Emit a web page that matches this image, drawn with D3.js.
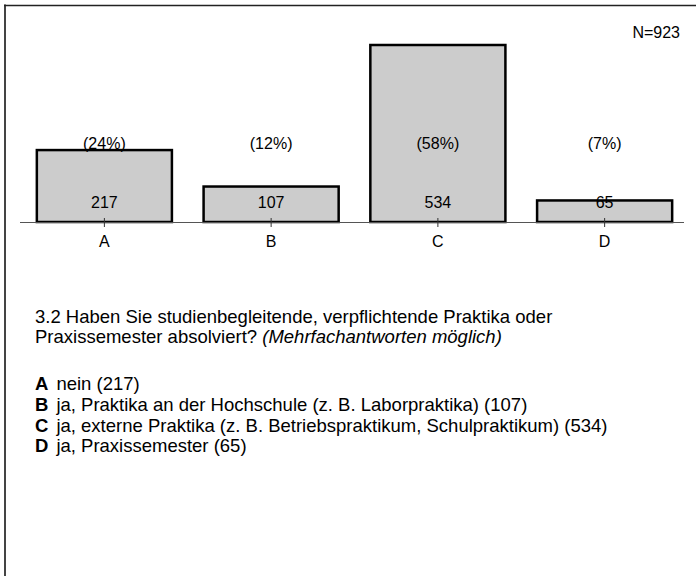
<!DOCTYPE html>
<html>
<head>
<meta charset="utf-8">
<script src="https://cdn.jsdelivr.net/npm/d3@7"></script>
<style>
  body { margin: 0; background: #fff; }
  svg { display: block; font-family: "Liberation Sans", Arial, sans-serif; }
</style>
</head>
<body>
<div id="chart"></div>
<script>
const categories = ['A', 'B', 'C', 'D']
const counts = [217, 107, 534, 65]
const percents = ['(24%)', '(12%)', '(58%)', '(7%)']
const total = 923
const question = [
  '3.2 Haben Sie studienbegleitende, verpflichtende Praktika oder',
  'Praxissemester absolviert?'
]
const questionNote = '(Mehrfachantworten möglich)'
const answers = [
  'nein (217)',
  'ja, Praktika an der Hochschule (z. B. Laborpraktika) (107)',
  'ja, externe Praktika (z. B. Betriebspraktikum, Schulpraktikum) (534)',
  'ja, Praxissemester (65)'
]

const width = 696
const height = 576
const baseY = 222

const svg = d3.select('#chart')
  .append('svg')
  .attr('width', width)
  .attr('height', height)

// frame (left + top only)
svg.append('line')
  .attr('x1', 5).attr('x2', 5).attr('y1', 4.5).attr('y2', height)
  .attr('stroke', '#444').attr('stroke-width', 2)
svg.append('line')
  .attr('x1', 4).attr('x2', width).attr('y1', 5.5).attr('y2', 5.5)
  .attr('stroke', '#222').attr('stroke-width', 1.5)

const x = d3.scaleBand()
  .domain(categories)
  .range([21, 688])
  .paddingInner(0.19)
  .paddingOuter(0.095)

const y = d3.scaleLinear()
  .domain([0, 534])
  .range([baseY, 45])

const data = categories.map((c, i) => ({ name: c, value: counts[i], perc: percents[i] }))

svg.append('g')
  .selectAll('rect')
  .data(data)
  .join('rect')
  .attr('x', d => x(d.name))
  .attr('y', d => y(d.value))
  .attr('width', x.bandwidth())
  .attr('height', d => baseY - y(d.value))
  .attr('fill', '#cccccc')
  .attr('stroke', '#000')
  .attr('stroke-width', 2.5)

// axis line
svg.append('line')
  .attr('x1', 20).attr('x2', 684)
  .attr('y1', baseY + 0.5).attr('y2', baseY + 0.5)
  .attr('stroke', '#555').attr('stroke-width', 1)

const xAxis = g =>
  g
    .attr('transform', `translate(0,${baseY})`)
    .call(d3.axisBottom(x).tickSize(5).tickSizeOuter(0))
    .call(g => g.select('.domain').remove())
    .call(g => g.selectAll('.tick line').attr('y1', -4).attr('stroke', '#333'))
    .call(g => g.selectAll('.tick text')
      .attr('y', 25)
      .attr('dy', null)
      .attr('font-size', 16)
      .attr('font-family', '"Liberation Sans", Arial, sans-serif')
      .attr('fill', '#000'))

svg.append('g').call(xAxis)

// count labels
svg.append('g')
  .selectAll('text')
  .data(data)
  .join('text')
  .attr('x', d => x(d.name) + x.bandwidth() / 2)
  .attr('y', baseY - 14)
  .attr('text-anchor', 'middle')
  .attr('font-size', 16)
  .text(d => d.value)

// percent labels
svg.append('g')
  .selectAll('text')
  .data(data)
  .join('text')
  .attr('x', d => x(d.name) + x.bandwidth() / 2)
  .attr('y', 149)
  .attr('text-anchor', 'middle')
  .attr('font-size', 16)
  .text(d => d.perc)

svg.append('text')
  .attr('x', 680)
  .attr('y', 38)
  .attr('text-anchor', 'end')
  .attr('font-size', 16)
  .text(`N=${total}`)

// question text
const q = svg.append('g').attr('font-size', 18.5)
q.append('text').attr('x', 35).attr('y', 322.5).text(question[0])
const q2 = q.append('text').attr('x', 35).attr('y', 343)
q2.append('tspan').text(question[1] + ' ')
q2.append('tspan').attr('font-style', 'italic').text(questionNote)

const legend = svg.append('g').attr('font-size', 18.5)
  .selectAll('text')
  .data(categories)
  .join('text')
  .attr('x', 35)
  .attr('y', (d, i) => 390.3 + i * 20.7)
legend.append('tspan').attr('font-weight', 'bold').text(d => d)
legend.append('tspan').attr('dx', 8).text((d, i) => answers[i])
</script>
</body>
</html>
